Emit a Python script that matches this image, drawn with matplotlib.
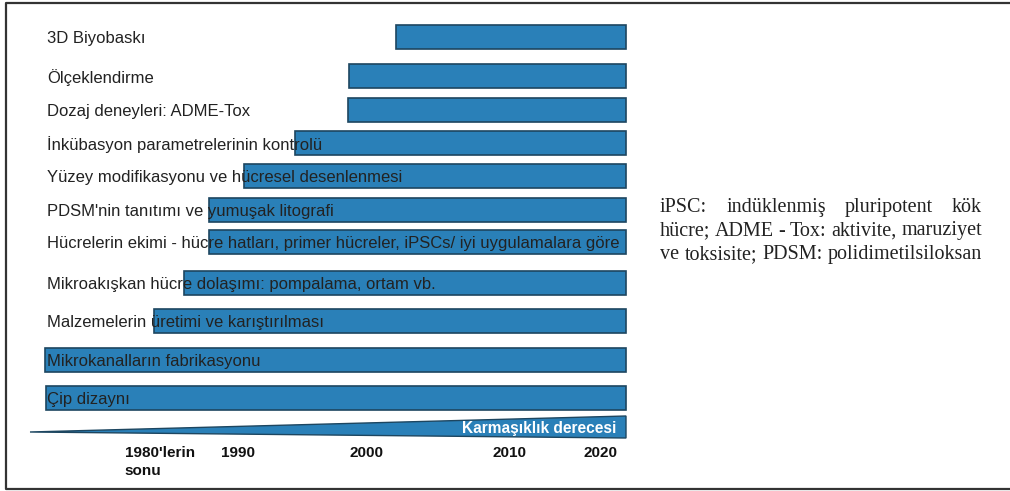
import matplotlib
matplotlib.use("Agg")
import matplotlib.pyplot as plt
from matplotlib.patches import Polygon
from matplotlib.lines import Line2D

# ---------------- data ----------------
stages = [
    "3D Biyobaskı",
    "Ölçeklendirme",
    "Dozaj deneyleri: ADME-Tox",
    "İnkübasyon parametrelerinin kontrolü",
    "Yüzey modifikasyonu ve hücresel desenlenmesi",
    "PDSM'nin tanıtımı ve yumuşak litografi",
    "Hücrelerin ekimi - hücre hatları, primer hücreler, iPSCs/ iyi uygulamalara göre",
    "Mikroakışkan hücre dolaşımı: pompalama, ortam vb.",
    "Malzemelerin üretimi ve karıştırılması",
    "Mikrokanalların fabrikasyonu",
    "Çip dizaynı",
]
# start of each stage on the timeline (0 = far left, 100 = today)
stage_start = [61.4, 53.5, 53.4, 44.5, 35.9, 30.0, 30.0, 25.8, 20.8, 2.5, 2.7]
stage_end = [100] * len(stages)

tick_labels = ["1980'lerin\nsonu", "1990", "2000", "2010", "2020"]
tick_values = [15.9, 34.9, 56.4, 80.5, 95.8]

complexity_label = "Karmaşıklık derecesi"
note_lines = [
    "iPSC: indüklenmiş pluripotent kök",
    "hücre; ADME - Tox: aktivite, maruziyet",
    "ve toksisite; PDSM: polidimetilsiloksan",
]

# ---------------- layout ----------------
W, H = 1010, 491
row_y = [37, 76, 109.5, 143, 176, 210, 241.5, 282.5, 321, 360, 398]
bar_h = 24
px0, px100 = 30, 626
scale = (px100 - px0) / 100.0
bar_color = "#2a80b8"
edge_color = "#1d4660"

fig = plt.figure(figsize=(W / 100, H / 100), dpi=100)
ax = fig.add_axes([0, 0, 1, 1])
ax.set_xlim(-px0 / scale, (W - px0) / scale)
ax.set_ylim(H, 0)
ax.axis("off")

lefts = stage_start
widths = [e - s for s, e in zip(stage_start, stage_end)]
ax.barh(row_y, widths, left=lefts, height=bar_h, color=bar_color,
        edgecolor=edge_color, linewidth=1.2, zorder=1)

lab_x = (47 - px0) / scale
for name, y in zip(stages, row_y):
    ax.text(lab_x, y + 1.5, name, ha="left", va="center", fontsize=12,
            family="Liberation Sans", color="#222222", zorder=3)

# complexity wedge
wedge = Polygon([(0, 432), (100, 416), (100, 438)], closed=True,
                facecolor=bar_color, edgecolor=edge_color, linewidth=1.0, zorder=1)
ax.add_patch(wedge)
ax.text((616 - px0) / scale, 428, complexity_label, ha="right", va="center",
        fontsize=11.2, fontweight="bold", family="Liberation Sans", color="white", zorder=3)

# timeline labels
for lab, v in zip(tick_labels, tick_values):
    if "\n" in lab:
        ax.text(v, 446, lab, ha="left", va="top", fontsize=11, fontweight="bold",
                family="Liberation Sans", color="#111111", linespacing=1.35)
    else:
        ax.text(v, 446, lab, ha="center", va="top", fontsize=11, fontweight="bold",
                family="Liberation Sans", color="#111111")

# justified note text
renderer = fig.canvas.get_renderer()
note_fs = 12.0
x_left, x_right = 660, 982
baselines = [212, 235.5, 259]


def measure(s, fs):
    t = fig.text(0, 0, s, fontsize=fs, family="Liberation Serif")
    w = t.get_window_extent(renderer).width
    t.remove()
    return w

# fit font size so the last line has its natural width
nat = measure(note_lines[2], note_fs)
note_fs = note_fs * (x_right - x_left) / nat

for line, yb in zip(note_lines, baselines):
    words = line.split(" ")
    ws = [measure(w, note_fs) for w in words]
    gap = ((x_right - x_left) - sum(ws)) / (len(words) - 1)
    x = x_left
    for w, wd in zip(words, ws):
        fig.text(x / W, 1 - yb / H, w, fontsize=note_fs, family="Liberation Serif",
                 color="#222222", ha="left", va="baseline")
        x += wd + gap

# frame
fig.add_artist(Line2D([1.0, 6 / W, 6 / W, 1.0],
                      [1 - 3 / H, 1 - 3 / H, 1 - 489 / H, 1 - 489 / H],
                      transform=fig.transFigure, color="#333333", linewidth=1.6))

fig.savefig("out.png", dpi=100)
